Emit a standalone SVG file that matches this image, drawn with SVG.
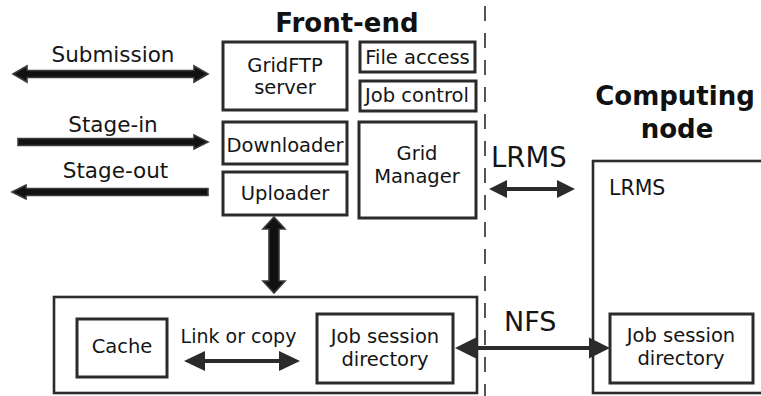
<svg xmlns="http://www.w3.org/2000/svg" width="761" height="396" viewBox="0 0 761 396">
  <style>
    .box { fill: #fff; stroke: #2b2b2b; stroke-width: 3; }
    .frame { fill: none; stroke: #2b2b2b; stroke-width: 2.6; }
    .lbl { font-family: "DejaVu Sans", Verdana, sans-serif; font-size: 19.5px; fill: #151515; text-anchor: middle; }
    .side { font-family: "DejaVu Sans", Verdana, sans-serif; font-size: 21.5px; fill: #151515; text-anchor: middle; }
    .big { font-family: "DejaVu Sans", Verdana, sans-serif; font-size: 27.5px; fill: #151515; }
    .title { font-family: "DejaVu Sans", Verdana, sans-serif; font-weight: bold; font-size: 26px; fill: #111; text-anchor: middle; }
    .fat { fill: #111; stroke: #3a3a3a; stroke-width: 1.6; stroke-linejoin: miter; }
    .thin { fill: #2b2b2b; }
  </style>

  <!-- boundary between front-end and computing node -->
  <line x1="485" y1="6" x2="485" y2="396" stroke="#2b2b2b" stroke-width="1.6" stroke-dasharray="15 12"/>

  <!-- titles -->
  <text class="title" x="347" y="32">Front-end</text>
  <text class="title" x="675" y="105">Computing</text>
  <text class="title" x="677" y="138">node</text>

  <!-- front-end services -->
  <g id="gridftp">
    <rect class="box" x="223" y="42" width="124" height="68"/>
    <text class="lbl" x="285" y="72">GridFTP</text>
    <text class="lbl" x="285" y="94">server</text>
  </g>
  <g id="file-access">
    <rect class="box" x="360" y="42" width="115" height="30"/>
    <text class="lbl" x="417.5" y="64">File access</text>
  </g>
  <g id="job-control">
    <rect class="box" x="360" y="81" width="116" height="30"/>
    <text class="lbl" x="417" y="102">Job control</text>
  </g>
  <g id="downloader">
    <rect class="box" x="223" y="122" width="124" height="42"/>
    <text class="lbl" x="285" y="152">Downloader</text>
  </g>
  <g id="uploader">
    <rect class="box" x="223" y="172" width="124" height="43"/>
    <text class="lbl" x="285" y="200">Uploader</text>
  </g>
  <g id="grid-manager">
    <rect class="box" x="359" y="122" width="117" height="96"/>
    <text class="lbl" x="417" y="160">Grid</text>
    <text class="lbl" x="417" y="183">Manager</text>
  </g>

  <!-- front-end storage -->
  <g id="storage">
    <rect class="frame" x="54" y="297" width="423" height="96"/>
  </g>
  <g id="cache">
    <rect class="box" x="77" y="319" width="90" height="58"/>
    <text class="lbl" x="122" y="353">Cache</text>
  </g>
  <g id="session-fe">
    <rect class="box" x="317" y="314" width="136" height="69"/>
    <text class="lbl" x="385" y="343">Job session</text>
    <text class="lbl" x="385" y="366">directory</text>
  </g>

  <!-- computing node -->
  <g id="computing-node">
    <rect class="frame" x="593" y="161" width="200" height="232"/>
    <text class="big" x="609" y="195" style="font-size:20.5px">LRMS</text>
  </g>
  <g id="session-cn">
    <rect class="box" x="610" y="314" width="143" height="69"/>
    <text class="lbl" x="681" y="342">Job session</text>
    <text class="lbl" x="681" y="365">directory</text>
  </g>

  <!-- connectors -->
  <g id="connectors">
    <!-- Submission (both ways) -->
    <polygon class="fat" points="13,74 27,66 27,70.5 194,70.5 194,66 208,74 194,82 194,77.5 27,77.5 27,82"/>
    <!-- Stage-in -->
    <polygon class="fat" points="18,138.5 194,138.5 194,135 208,142 194,149 194,145.5 18,145.5"/>
    <!-- Stage-out -->
    <polygon class="fat" points="12,192 26,185 26,188.5 208,188.5 208,195.5 26,195.5 26,199"/>
    <!-- Uploader to storage -->
    <polygon class="fat" points="274,217 285,229 279,229 279,281 285,281 274,293 263,281 269,281 269,229 263,229"/>
    <!-- LRMS -->
    <polygon class="thin" points="489,189 507,180 507,187 557,187 557,180 575,189 557,198 557,191 507,191 507,198"/>
    <!-- Link or copy -->
    <polygon class="thin" points="184,361 205,351 205,359 279,359 279,351 300,361 279,371 279,363 205,363 205,371"/>
    <!-- NFS -->
    <polygon class="thin" points="455,348 476,337.5 476,346 589,346 589,337.5 610,348 589,358.5 589,350 476,350 476,358.5"/>
  </g>

  <!-- connector labels -->
  <text class="side" x="113" y="62">Submission</text>
  <text class="side" x="113" y="132">Stage-in</text>
  <text class="side" x="115.5" y="178">Stage-out</text>
  <text class="big" x="491" y="167">LRMS</text>
  <text class="big" x="504" y="331" style="font-size:27px">NFS</text>
  <text class="lbl" x="238.5" y="343" style="font-size:19px">Link or copy</text>
</svg>
